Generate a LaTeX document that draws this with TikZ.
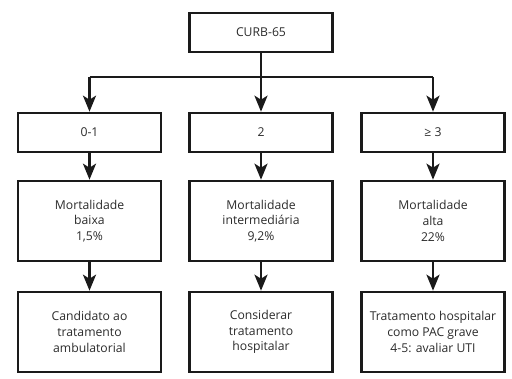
\documentclass[tikz,border=0pt]{standalone}
\usepackage{fontspec}
\setmainfont{Open Sans}
\usepackage{xcolor}
\usetikzlibrary{arrows.meta}
\definecolor{boxline}{HTML}{1A1A1A}
\definecolor{boxtext}{HTML}{2B2B2B}
\tikzset{
	box/.style={draw=boxline, line width=2.6pt, rectangle, align=center,
		minimum width=143pt, text=boxtext, inner sep=2pt,
		font=\fontsize{12.2}{15.7}\selectfont},
	small box/.style={box, minimum height=39pt},
	tall box/.style={box, minimum height=80pt},
	arr/.style={draw=boxline, line width=2.6pt,
		-{Stealth[length=16pt,width=13pt,inset=4pt]}},
	bus/.style={draw=boxline, line width=2.6pt}
}

\begin{document}
\begin{tikzpicture}[x=1pt,y=-1pt]
		\useasboundingbox (0,0) rectangle (512,379);
		
		\node [small box] (curb) at (261, 32.5) {CURB-65};
		
		% linha de distribuicao
		\coordinate (split) at (261, 77);
		\coordinate (busl) at (89.5, 77);
		\coordinate (busr) at (433, 77);
		\draw [bus] (curb.south) -- (split);
		\draw [bus] (busl) -- (busr);
		
		\node [small box] (low) at (89.5, 132.5) {0-1};
		\node [small box] (mid) at (261, 132.5) {2};
		\node [small box] (high) at (433, 132.5) {≥ 3};
		
		\draw [arr] (busl) -- (low.north);
		\draw [arr] (split) -- (mid.north);
		\draw [arr] (busr) -- (high.north);
		
		\node [tall box] (mortlow) at (89.5, 221) {Mortalidade\\baixa\\1,5\%};
		\node [tall box] (mortmid) at (261, 221) {Mortalidade\\intermediária\\9,2\%};
		\node [tall box] (morthigh) at (433, 221) {Mortalidade\\alta\\22\%};
		
		\draw [arr] (low) -- (mortlow);
		\draw [arr] (mid) -- (mortmid);
		\draw [arr] (high) -- (morthigh);
		
		\node [tall box] (tratlow) at (89.5, 332) {Candidato ao\\tratamento\\ambulatorial};
		\node [tall box] (tratmid) at (261, 332) {Considerar\\tratamento\\hospitalar};
		\node [tall box] (trathigh) at (433, 332) {Tratamento hospitalar\\como PAC grave\\4-5: avaliar UTI};
		
		\draw [arr] (mortlow) -- (tratlow);
		\draw [arr] (mortmid) -- (tratmid);
		\draw [arr] (morthigh) -- (trathigh);
\end{tikzpicture}
\end{document}
